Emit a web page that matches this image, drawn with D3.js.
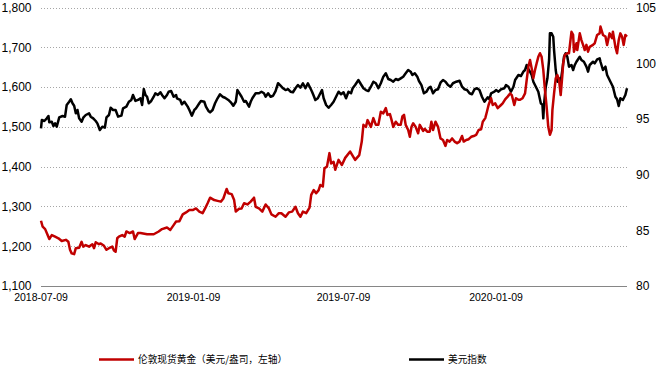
<!DOCTYPE html>
<html><head><meta charset="utf-8">
<script src="https://cdn.jsdelivr.net/npm/d3@7"></script>
<style>body{margin:0;background:#fff}svg{display:block}</style>
</head><body><svg id="c" width="659" height="370"></svg>
<script>
const startDate = "2018-07-09";
const endDay = 707;
const xTickLabels = ["2018-07-09", "2019-01-09", "2019-07-09", "2020-01-09"];
const leftTicks = [1100, 1200, 1300, 1400, 1500, 1600, 1700, 1800];
const rightTicks = [80, 85, 90, 95, 100, 105];
const seriesNames = ["伦敦现货黄金（美元/盎司，左轴）", "美元指数"];

const goldDays = [0,2,5,8,10,13,17,21,25,30,33,35,37,40,42,46,49,51,54,58,62,64,66,70,72,76,79,82,86,88,90,92,94,98,101,103,107,111,113,117,120,128,136,142,146,152,156,160,163,167,171,175,179,183,187,191,195,198,201,204,209,213,217,220,224,226,230,233,235,239,242,245,249,253,257,259,263,267,271,275,278,283,287,290,295,299,303,307,310,313,316,320,324,326,329,332,335,337,340,342,345,348,350,353,355,359,363,367,373,379,384,387,389,392,394,398,401,404,407,410,413,416,418,421,423,425,428,431,434,436,438,440,443,445,447,449,452,455,457,461,463,466,469,471,473,476,479,482,485,488,490,493,496,499,502,505,508,510,513,516,519,522,525,528,531,533,536,538,540,543,545,548,551,555,557,560,563,566,568,571,573,576,578,581,584,586,588,590,592,594,596,598,600,602,604,606,608,610,612,614,616,617,619,621,623,625,627,629,630,632,635,637,640,642,643,646,647,650,652,654,656,658,660,662,666,668,671,674,675,678,681,683,686,689,690,693,695,697,699,701,703,705,707];
const goldPrice = [1264,1249,1243,1228,1218,1228,1224,1220,1213,1216,1211,1191,1182,1180,1195,1196,1211,1199,1203,1199,1205,1195,1210,1205,1207,1201,1191,1195,1199,1189,1186,1220,1224,1228,1224,1237,1233,1237,1218,1233,1233,1230,1230,1237,1243,1247,1241,1253,1262,1263,1280,1285,1291,1291,1295,1287,1283,1295,1308,1322,1316,1314,1312,1320,1344,1333,1331,1316,1287,1294,1295,1308,1305,1312,1322,1299,1295,1287,1305,1295,1280,1274,1283,1283,1274,1285,1287,1299,1283,1274,1287,1283,1297,1329,1341,1333,1341,1354,1350,1396,1400,1434,1408,1412,1392,1417,1404,1422,1438,1417,1429,1463,1505,1500,1517,1500,1522,1505,1505,1538,1534,1547,1530,1532,1517,1500,1513,1505,1505,1526,1530,1505,1492,1475,1500,1509,1500,1484,1505,1490,1495,1488,1488,1513,1492,1513,1500,1471,1467,1452,1467,1463,1471,1463,1459,1463,1477,1463,1467,1469,1475,1477,1480,1492,1494,1513,1522,1538,1555,1572,1555,1559,1547,1555,1559,1569,1576,1584,1580,1555,1572,1568,1568,1572,1584,1618,1651,1668,1647,1622,1643,1660,1676,1685,1676,1643,1593,1551,1500,1480,1492,1542,1584,1622,1630,1618,1580,1630,1660,1681,1685,1685,1739,1731,1689,1710,1693,1735,1718,1706,1693,1706,1689,1701,1706,1710,1731,1735,1752,1731,1727,1706,1735,1723,1739,1701,1685,1718,1735,1727,1706,1731,1727];

const dxyDays = [0,1,4,7,9,10,13,15,17,19,22,26,29,31,34,36,38,40,42,44,46,49,51,54,58,60,63,66,68,71,74,77,79,82,84,87,90,93,97,99,103,106,109,111,114,117,120,122,124,126,128,130,133,136,138,141,144,146,149,152,154,157,160,163,164,168,170,173,177,179,182,185,187,191,193,197,199,202,204,207,210,213,216,219,222,226,229,232,235,237,242,245,247,251,253,255,259,263,266,269,271,274,277,280,283,286,289,292,295,298,301,304,307,310,313,316,319,322,325,327,329,331,334,337,339,341,344,347,350,353,356,359,362,365,368,371,374,376,379,383,386,389,392,395,398,401,404,407,410,413,416,419,422,425,428,431,434,437,440,443,446,448,451,454,456,459,462,465,468,470,473,476,479,482,485,488,491,494,497,501,505,508,511,514,517,520,523,526,529,532,535,539,541,543,547,549,552,555,559,561,564,567,570,572,576,579,582,584,586,588,590,592,594,597,600,603,605,606,607,609,611,613,614,616,618,619,621,623,625,627,629,631,633,635,637,640,642,644,646,650,652,655,658,660,662,666,668,671,674,675,678,681,683,687,690,693,695,697,699,702,705,707];
const dxyValue = [94.16,94.9,94.81,95.05,95.26,94.69,94.75,94.36,94.6,94.3,95.14,95.26,95.2,96.25,96.54,96.76,96.4,96.18,95.5,95.8,95.05,94.75,95.11,95.35,95.5,95.2,95.05,94.81,94.6,94.0,94.3,94.21,95.14,95.35,96.0,95.8,95.8,95.2,95.29,95.95,96.1,96.54,96.7,97.15,96.61,96.7,96.85,96.25,97.68,97.15,96.99,96.4,96.61,96.99,97.3,97.15,97.39,97.15,96.85,97.15,97.44,97.5,96.99,97.15,96.85,96.7,96.31,96.54,96.1,95.8,95.29,95.8,95.95,96.4,96.61,96.54,96.1,95.71,95.59,95.8,96.4,96.85,97.21,96.99,96.9,96.7,96.49,96.18,96.54,97.59,96.99,96.54,96.61,96.1,96.54,96.85,97.3,97.3,97.44,97.3,96.99,97.3,96.99,97.08,97.5,98.2,97.98,97.75,97.59,97.68,97.44,97.39,97.75,98.04,97.8,98.2,97.75,98.2,97.75,97.44,97.08,96.7,96.85,97.3,97.59,96.85,96.25,96.0,96.25,96.54,96.99,97.44,97.21,97.39,96.85,97.44,97.3,97.75,98.04,98.49,98.11,97.75,97.59,97.5,97.89,98.34,98.2,97.75,98.2,98.79,99.09,98.58,98.49,98.34,98.58,98.49,98.64,98.79,99.09,99.39,99.24,98.94,99.09,98.79,98.4,98.04,97.3,97.44,97.8,97.89,97.3,97.59,97.66,98.25,98.49,98.34,98.04,97.89,98.2,98.34,98.43,97.89,97.66,97.59,97.3,97.21,97.66,97.75,97.59,96.99,96.54,96.94,96.76,97.3,97.44,97.59,97.44,97.66,97.75,98.04,97.89,97.44,97.89,98.49,98.94,98.85,99.24,99.39,99.84,99.45,99.24,98.94,98.34,97.89,97.44,96.4,96.25,95.05,96.4,97.89,98.64,100.29,102.68,102.68,102.38,101.18,99.39,98.34,98.64,98.34,99.39,100.58,100.89,100.58,99.69,99.84,99.39,99.84,100.13,100.58,100.29,100.13,99.69,99.24,99.84,100.13,99.99,100.35,100.44,100.13,99.39,99.69,98.94,98.34,97.89,96.99,96.76,96.16,96.85,96.7,97.15,97.75];

const svg = d3.select("#c");
const plotL = 41, plotR = 627, plotT = 7.5, plotB = 286;
const t0 = new Date(startDate + "T00:00:00Z");
const x = d3.scaleUtc().domain([t0, d3.utcDay.offset(t0, endDay)]).range([plotL, plotR]);
const yL = d3.scaleLinear().domain([1100, 1800]).range([plotB, plotT]);
const yR = d3.scaleLinear().domain([80, 105]).range([plotB, plotT]);
const tickFont = "'Liberation Sans', Arial, sans-serif";

// gridlines
svg.append("g").selectAll("line").data(leftTicks.slice(1)).join("line")
  .attr("x1", plotL).attr("x2", plotR)
  .attr("y1", d => Math.round(yL(d)) + 0.5).attr("y2", d => Math.round(yL(d)) + 0.5)
  .attr("stroke", "#a6a6a6").attr("stroke-width", 1).attr("stroke-dasharray", "1,2");
svg.append("line").attr("x1", plotL).attr("x2", plotR)
  .attr("y1", Math.round(yL(1100)) + 0.5).attr("y2", Math.round(yL(1100)) + 0.5)
  .attr("stroke", "#868686").attr("stroke-width", 1);

// left axis labels
svg.append("g").selectAll("text").data(leftTicks).join("text")
  .attr("x", 31.5).attr("y", d => yL(d)).attr("dy", "0.36em")
  .attr("text-anchor", "end").attr("font-family", tickFont).attr("font-size", 12)
  .attr("fill", "#000").text(d => d3.format(",")(d));
// right axis labels
svg.append("g").selectAll("text").data(rightTicks).join("text")
  .attr("x", 636).attr("y", d => yR(d)).attr("dy", "0.36em")
  .attr("text-anchor", "start").attr("font-family", tickFont).attr("font-size", 12)
  .attr("fill", "#000").text(d => d);
// x labels
svg.append("g").selectAll("text").data(xTickLabels).join("text")
  .attr("x", d => x(new Date(d + "T00:00:00Z"))).attr("y", 297.5).attr("dy", "0.36em")
  .attr("text-anchor", "middle").attr("font-family", tickFont).attr("font-size", 10.5)
  .attr("fill", "#000").text(d => d);

const gold = goldDays.map((d, i) => [d3.utcDay.offset(t0, d), goldPrice[i]]);
const dxy = dxyDays.map((d, i) => [d3.utcDay.offset(t0, d), dxyValue[i]]);

svg.append("path").datum(dxy)
  .attr("d", d3.line().x(d => x(d[0])).y(d => yR(d[1])))
  .attr("fill", "none").attr("stroke", "#000").attr("stroke-width", 2.5).attr("stroke-linejoin", "round");
svg.append("path").datum(gold)
  .attr("d", d3.line().x(d => x(d[0])).y(d => yL(d[1])))
  .attr("fill", "none").attr("stroke", "#c00000").attr("stroke-width", 2.5).attr("stroke-linejoin", "round");

// legend
const legend = [{name: seriesNames[0], color: "#c00000", lx: 99}, {name: seriesNames[1], color: "#000", lx: 409}];
const lg = svg.append("g").selectAll("g").data(legend).join("g");
lg.append("line").attr("x1", d => d.lx).attr("x2", d => d.lx + 35).attr("y1", 359.5).attr("y2", 359.5)
  .attr("stroke", d => d.color).attr("stroke-width", 2.5);
lg.append("text").attr("x", d => d.lx + 39).attr("y", 359.5).attr("dy", "0.35em")
  .attr("font-family", "'Noto Sans CJK SC', sans-serif").attr("font-size", 9.7).attr("fill", "#000")
  .text(d => d.name);
</script></body></html>
